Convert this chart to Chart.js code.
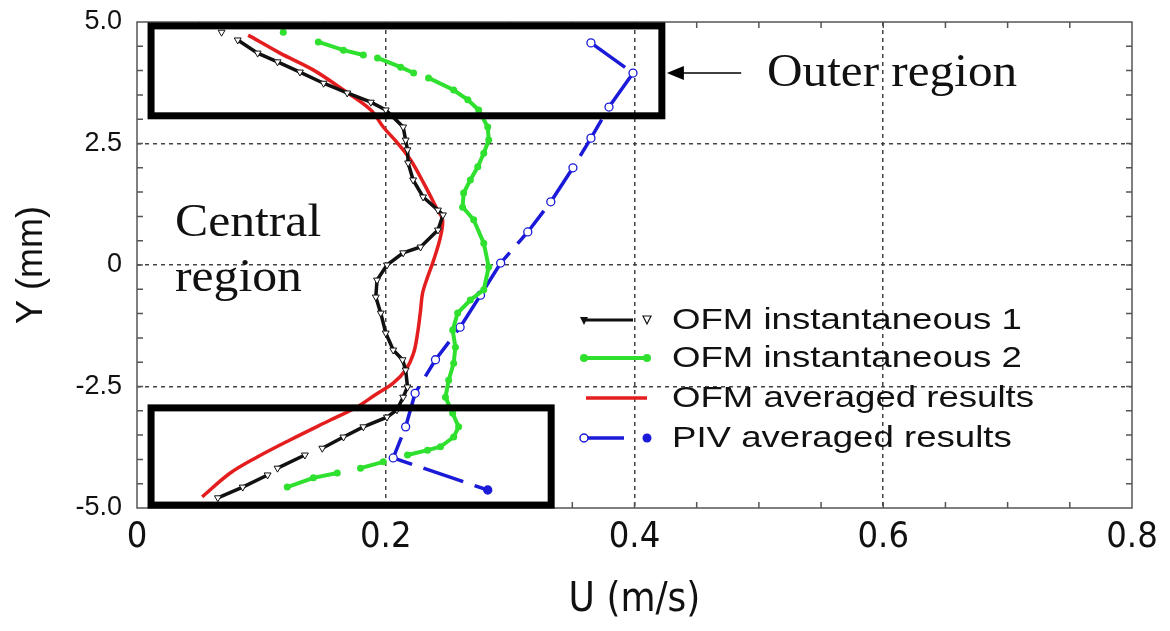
<!DOCTYPE html>
<html>
<head>
<meta charset="utf-8">
<script src="https://cdn.jsdelivr.net/npm/chart.js@4.4.1/dist/chart.umd.min.js"></script>
<style>html,body{margin:0;padding:0;background:#fff;}canvas{display:block;}</style>
</head>
<body>
<canvas id="c" width="1170" height="631"></canvas>
<script>
// ---- data ----
const xTickValues = [0, 0.2, 0.4, 0.6, 0.8];
const yTickValues = [-5, -2.5, 0, 2.5, 5];
const seriesNames = ['OFM instantaneous 1', 'OFM instantaneous 2', 'OFM averaged results', 'PIV averaged results'];
const axisTitles = ['U (m/s)', 'Y (mm)'];
const regionLabels = ['Outer region', 'Central', 'region'];

// OFM instantaneous 1 (null = gap in the data)
const ofm1U = [0.068, null, 0.081, 0.097, 0.113, 0.131, 0.150, 0.169, 0.188, 0.200, 0.214, 0.216, 0.2175, 0.218, 0.222, 0.230, 0.242, 0.246, 0.242, 0.228, 0.214, 0.201, 0.193, 0.192, 0.196, 0.200, 0.206, 0.2135, 0.216, 0.2175, 0.214, 0.209, 0.201, 0.182, 0.166, 0.149, null, 0.135, 0.113, null, 0.105, 0.085, 0.065];
const ofm1Y = [4.79, null, 4.63, 4.36, 4.18, 3.97, 3.74, 3.54, 3.35, 3.19, 2.84, 2.57, 2.37, 2.10, 1.75, 1.40, 1.13, 1.03, 0.72, 0.37, 0.25, 0.00, -0.31, -0.66, -0.99, -1.40, -1.75, -1.95, -2.16, -2.51, -2.72, -2.98, -3.13, -3.33, -3.54, -3.77, null, -3.91, -4.18, null, -4.32, -4.57, -4.79];

// OFM instantaneous 2
const ofm2U = [0.1176, null, 0.1458, 0.166, 0.182, null, 0.1934, 0.212, 0.2224, null, 0.2344, 0.2546, 0.266, 0.2747, 0.282, 0.2828, 0.2788, 0.274, 0.268, 0.2626, 0.2618, 0.2707, 0.2788, 0.2828, 0.2788, 0.268, 0.2578, 0.2538, 0.256, 0.2546, 0.2506, 0.248, 0.2538, 0.2586, 0.2546, 0.244, 0.2336, 0.2175, null, 0.198, 0.1797, null, 0.161, 0.1418, 0.1208];
const ofm2Y = [4.79, null, 4.59, 4.42, 4.32, null, 4.26, 4.07, 3.95, null, 3.85, 3.60, 3.40, 3.19, 2.84, 2.57, 2.30, 2.02, 1.75, 1.48, 1.19, 0.93, 0.45, -0.04, -0.51, -0.72, -0.99, -1.34, -1.69, -2.02, -2.37, -2.72, -3.05, -3.33, -3.54, -3.74, -3.81, -3.91, null, -4.05, -4.18, null, -4.28, -4.38, -4.57];

// OFM averaged results
const ofmAvgU = [0.0894, 0.115, 0.142, 0.166, 0.188, 0.198, 0.2095, 0.220, 0.2304, 0.2417, 0.2457, 0.244, 0.2385, 0.2336, 0.2296, 0.228, 0.2256, 0.2224, 0.216, 0.206, 0.1917, 0.177, 0.1555, 0.123, 0.0967, 0.075, 0.0524];
const ofmAvgY = [4.73, 4.36, 4.01, 3.60, 3.19, 2.84, 2.51, 2.16, 1.69, 1.13, 0.93, 0.58, 0.10, -0.25, -0.58, -0.93, -1.40, -1.81, -2.16, -2.43, -2.67, -2.92, -3.19, -3.60, -3.95, -4.28, -4.77];

// PIV averaged results
const pivU = [0.365, 0.3988, 0.3795, 0.365, 0.3505, 0.3327, 0.3142, 0.2924, 0.2762, 0.2598, 0.240, 0.2236, 0.216, 0.206, 0.282];
const pivY = [4.57, 3.95, 3.25, 2.61, 2.00, 1.30, 0.68, 0.04, -0.62, -1.28, -1.95, -2.64, -3.33, -3.97, -4.63];

// rectangles marking the regions (data coordinates)
const outerBox = {u0: 0.0113, u1: 0.422, y0: 3.07, y1: 4.92};
const lowerBox = {u0: 0.0113, u1: 0.333, y0: -4.94, y1: -2.94};

// ---- helpers ----
const toPts = (u, y) => u.map((v, i) => ({x: v, y: y[i]}));
const BLACK = '#111111', GREEN = '#2fe02f', RED = '#e41e1e', BLUE = '#1a1ad8';
const SANS = "'Liberation Sans', Arial, sans-serif";
const NARROW = "'Liberation Sans Narrow', 'DejaVu Sans Condensed', 'Liberation Sans', sans-serif";
const SERIF = "'Liberation Serif', 'Times New Roman', serif";

function drawScaledText(ctx, text, x, y, font, sx) {
  ctx.save();
  ctx.font = font;
  ctx.translate(x, y);
  ctx.scale(sx, 1);
  ctx.fillText(text, 0, 0);
  ctx.restore();
}

const decor = {
  id: 'decor',
  afterDatasetsDraw(chart) {
    const {ctx, chartArea: a, scales: {x, y}} = chart;
    ctx.save();
    // frame
    ctx.strokeStyle = '#555';
    ctx.lineWidth = 1.5;
    ctx.setLineDash([]);
    ctx.strokeRect(a.left, a.top, a.right - a.left, a.bottom - a.top);
    // inward minor ticks
    ctx.beginPath();
    for (let i = 1; i < 16; i++) {
      const px = x.getPixelForValue(i * 0.05);
      ctx.moveTo(px, a.bottom); ctx.lineTo(px, a.bottom - 6);
      ctx.moveTo(px, a.top); ctx.lineTo(px, a.top + 6);
    }
    for (let i = 1; i < 20; i++) {
      const py = y.getPixelForValue(-5 + i * 0.5);
      ctx.moveTo(a.left, py); ctx.lineTo(a.left + 6, py);
      ctx.moveTo(a.right, py); ctx.lineTo(a.right - 6, py);
    }
    ctx.stroke();
    // region boxes
    ctx.strokeStyle = '#000';
    ctx.lineWidth = 7;
    [outerBox, lowerBox].forEach(b => {
      const l = x.getPixelForValue(b.u0), r = x.getPixelForValue(b.u1);
      const t = y.getPixelForValue(b.y1), bt = y.getPixelForValue(b.y0);
      ctx.strokeRect(l, t, r - l, bt - t);
    });
    // arrow pointing to the outer box
    const ay = y.getPixelForValue(3.95);
    const tip = x.getPixelForValue(outerBox.u1) + 5;
    const tail = x.getPixelForValue(0.4858);
    ctx.lineWidth = 1.6;
    ctx.beginPath(); ctx.moveTo(tail, ay); ctx.lineTo(tip + 14, ay); ctx.stroke();
    ctx.fillStyle = '#000';
    ctx.beginPath(); ctx.moveTo(tip, ay); ctx.lineTo(tip + 17, ay - 7); ctx.lineTo(tip + 17, ay + 7); ctx.closePath(); ctx.fill();
    // region labels
    ctx.fillStyle = '#111';
    ctx.textBaseline = 'alphabetic';
    ctx.textAlign = 'left';
    drawScaledText(ctx, regionLabels[0], 767, 86, '46px ' + SERIF, 1.07);
    drawScaledText(ctx, regionLabels[1], 175, 236, '46px ' + SERIF, 1.08);
    drawScaledText(ctx, regionLabels[2], 175, 291, '46px ' + SERIF, 1.08);

    // legend
    const rows = [320, 358, 398, 438];
    const x0 = 584, x1 = 647, tx = 672;
    // row 1: black line + triangles
    ctx.strokeStyle = BLACK; ctx.lineWidth = 3;
    ctx.beginPath(); ctx.moveTo(x0, rows[0]); ctx.lineTo(x1 - 14, rows[0]); ctx.stroke();
    ctx.fillStyle = BLACK;
    ctx.beginPath(); ctx.moveTo(x0 - 4, rows[0] - 3); ctx.lineTo(x0 + 4, rows[0] - 3); ctx.lineTo(x0, rows[0] + 5); ctx.closePath(); ctx.fill();
    ctx.lineWidth = 1.2; ctx.fillStyle = '#fff';
    ctx.beginPath(); ctx.moveTo(x1 - 4, rows[0] - 4); ctx.lineTo(x1 + 4, rows[0] - 4); ctx.lineTo(x1, rows[0] + 4); ctx.closePath(); ctx.fill(); ctx.stroke();
    // row 2: green line + dots
    ctx.strokeStyle = GREEN; ctx.lineWidth = 4; ctx.fillStyle = GREEN;
    ctx.beginPath(); ctx.moveTo(x0, rows[1]); ctx.lineTo(x1, rows[1]); ctx.stroke();
    [x0, x1].forEach(px => { ctx.beginPath(); ctx.arc(px, rows[1], 4, 0, Math.PI * 2); ctx.fill(); });
    // row 3: red line
    ctx.strokeStyle = RED; ctx.lineWidth = 3.5;
    ctx.beginPath(); ctx.moveTo(x0 + 2, rows[2]); ctx.lineTo(x1, rows[2]); ctx.stroke();
    // row 4: blue dashed
    ctx.strokeStyle = BLUE; ctx.lineWidth = 3.5; ctx.fillStyle = BLUE;
    ctx.beginPath(); ctx.moveTo(x0, rows[3]); ctx.lineTo(x0 + 40, rows[3]); ctx.stroke();
    ctx.lineWidth = 1.5; ctx.fillStyle = '#fff';
    ctx.beginPath(); ctx.arc(x0, rows[3], 4, 0, Math.PI * 2); ctx.fill(); ctx.stroke();
    ctx.fillStyle = BLUE;
    ctx.beginPath(); ctx.arc(x1, rows[3], 4.5, 0, Math.PI * 2); ctx.fill();
    // texts
    ctx.fillStyle = '#111';
    ctx.textBaseline = 'middle';
    seriesNames.forEach((n, i) => drawScaledText(ctx, n, tx, rows[i] + 1, '30px ' + SANS, 1.22));
    ctx.restore();
  }
};

const gridColor = edge => ctx => (ctx.tick && edge.includes(ctx.tick.value)) ? 'rgba(0,0,0,0)' : '#444';

new Chart(document.getElementById('c'), {
  type: 'scatter',
  data: {
    datasets: [
      {
        label: seriesNames[0], data: toPts(ofm1U, ofm1Y), showLine: true, spanGaps: false,
        borderColor: BLACK, borderWidth: 3.5, pointStyle: 'triangle', rotation: 180,
        pointRadius: 4, pointBackgroundColor: '#fff', pointBorderColor: BLACK, pointBorderWidth: 1
      },
      {
        label: seriesNames[1], data: toPts(ofm2U, ofm2Y), showLine: true, spanGaps: false,
        borderColor: GREEN, borderWidth: 4, pointStyle: 'circle',
        pointRadius: 3.5, pointBackgroundColor: GREEN, pointBorderColor: GREEN, pointBorderWidth: 0
      },
      {
        label: seriesNames[2], data: toPts(ofmAvgU, ofmAvgY), showLine: true,
        borderColor: RED, borderWidth: 3.5, pointRadius: 0, tension: 0.35
      },
      {
        label: seriesNames[3], data: toPts(pivU, pivY), showLine: true,
        borderColor: BLUE, borderWidth: 3.5, borderDash: [42, 12],
        pointStyle: 'circle', pointRadius: 4, pointBorderColor: BLUE, pointBorderWidth: 1.3,
        pointBackgroundColor: c => c.dataIndex === pivU.length - 1 ? BLUE : '#fff'
      }
    ]
  },
  options: {
    responsive: false,
    animation: false,
    events: [],
    layout: {padding: {top: 22, right: 38, left: 0, bottom: 0}},
    plugins: {legend: {display: false}, tooltip: {enabled: false}},
    scales: {
      x: {
        type: 'linear', min: 0, max: 0.8,
        afterFit: s => { s.height = 123; s.paddingLeft = 0; s.paddingRight = 0; },
        afterBuildTicks: s => { s.ticks = xTickValues.map(v => ({value: v})); },
        ticks: {
          color: '#111', padding: 8, font: {family: NARROW, size: 36},
          callback: v => v === 0 ? '0' : Number(v).toFixed(1)
        },
        grid: {drawTicks: false, lineWidth: 1.5, color: gridColor([0, 0.8])},
        border: {display: false, dash: [4, 4]},
        title: {display: true, text: axisTitles[0], color: '#111', font: {family: NARROW, size: 40}, padding: {top: 0, bottom: 6}}
      },
      y: {
        type: 'linear', min: -5, max: 5,
        afterFit: s => { s.width = 137; s.paddingTop = 0; s.paddingBottom = 0; },
        afterBuildTicks: s => { s.ticks = yTickValues.map(v => ({value: v})); },
        ticks: {
          color: '#111', padding: 15, font: {family: SANS, size: 27},
          callback: v => v === 0 ? '0' : Number(v).toFixed(1)
        },
        grid: {drawTicks: false, lineWidth: 1.5, color: gridColor([-5, 5])},
        border: {display: false, dash: [4, 4]},
        title: {display: true, text: axisTitles[1], color: '#111', font: {family: SANS, size: 36}, padding: {top: 10, bottom: 0}}
      }
    }
  },
  plugins: [decor]
});
</script>
</body>
</html>
